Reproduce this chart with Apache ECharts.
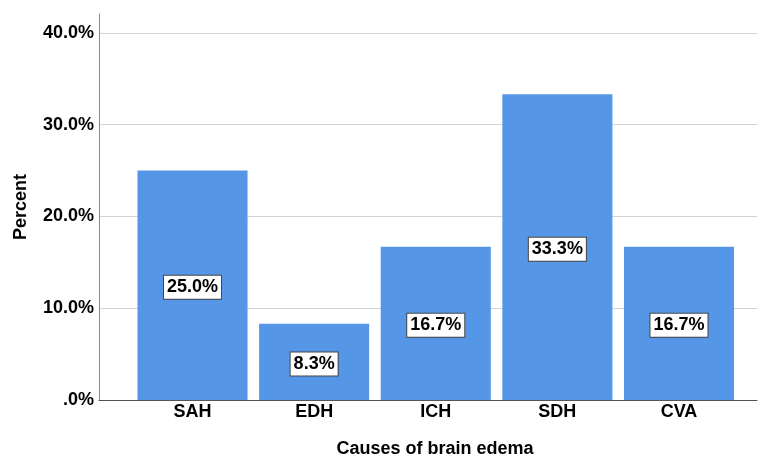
<!DOCTYPE html>
<html><head><meta charset="utf-8">
<script src="https://cdn.jsdelivr.net/npm/echarts@6/dist/echarts.min.js"></script>
<style>html,body{margin:0;padding:0;background:#fff}#c{width:763px;height:458px}</style>
</head><body><div id="c"></div>
<script>
const categories = ['SAH', 'EDH', 'ICH', 'SDH', 'CVA'];
const percentValues = [25.0, 8.3, 16.7, 33.3, 16.7];
const yTicks = [0, 10, 20, 30, 40];
const yMax = 42.05;
const xTitle = 'Causes of brain edema';
const yTitle = 'Percent';

const FONT = '"Liberation Sans", Arial, sans-serif';
const FS = 18;
const chart = echarts.init(document.getElementById('c'));
const fmtY = v => {
  if (!yTicks.some(t => Math.abs(t - v) < 1e-6)) return '';
  return v === 0 ? '.0%' : v.toFixed(1) + '%';
};
chart.setOption({
  animation: false,
  grid: [
    {left: 99, right: 6, top: 14, bottom: 58, outerBoundsMode: 'none', containLabel: false},
    {left: 131.7, right: 23.2, top: 14, bottom: 58, outerBoundsMode: 'none', containLabel: false}
  ],
  xAxis: [
    {gridIndex: 0, type: 'value', min: 0, max: 1,
     axisLine: {show: true, lineStyle: {color: '#555', width: 1}},
     axisTick: {show: false}, axisLabel: {show: false}, splitLine: {show: false},
     name: xTitle, nameLocation: 'middle', nameGap: 40,
     nameTextStyle: {fontFamily: FONT, fontWeight: 'bold', fontSize: FS, color: '#000', padding: [0, 0, 0, 14]}},
    {gridIndex: 1, type: 'category', data: categories,
     axisLine: {show: false}, axisTick: {show: false},
     axisLabel: {margin: 3, fontFamily: FONT, fontWeight: 'bold', fontSize: FS, color: '#000'}}
  ],
  yAxis: [
    {gridIndex: 0, type: 'value', min: 0, max: yMax, interval: 10,
     axisLine: {show: true, lineStyle: {color: '#888', width: 1}},
     axisTick: {show: false},
     axisLabel: {formatter: fmtY, showMaxLabel: false, margin: 5, padding: [4, 0, 0, 0],
       fontFamily: FONT, fontWeight: 'bold', fontSize: FS, color: '#000'},
     splitLine: {show: true, showMaxLine: false, lineStyle: {color: '#d4d4d4', width: 1}},
     name: yTitle, nameLocation: 'middle', nameGap: 69, nameRotate: 90,
     nameTextStyle: {fontFamily: FONT, fontWeight: 'bold', fontSize: FS, color: '#000'}},
    {gridIndex: 1, type: 'value', min: 0, max: yMax, show: false}
  ],
  series: [{
    type: 'bar', xAxisIndex: 1, yAxisIndex: 1,
    data: percentValues, barCategoryGap: '9.5%',
    itemStyle: {color: '#5596e6'},
    label: {show: true, position: 'inside', offset: [0, 2],
      formatter: p => p.value.toFixed(1) + '%',
      fontFamily: FONT, fontWeight: 'bold', fontSize: FS, color: '#000',
      backgroundColor: '#fff', borderColor: '#444', borderWidth: 1,
      padding: [3, 3, 2, 3]}
  }]
});
</script></body></html>
